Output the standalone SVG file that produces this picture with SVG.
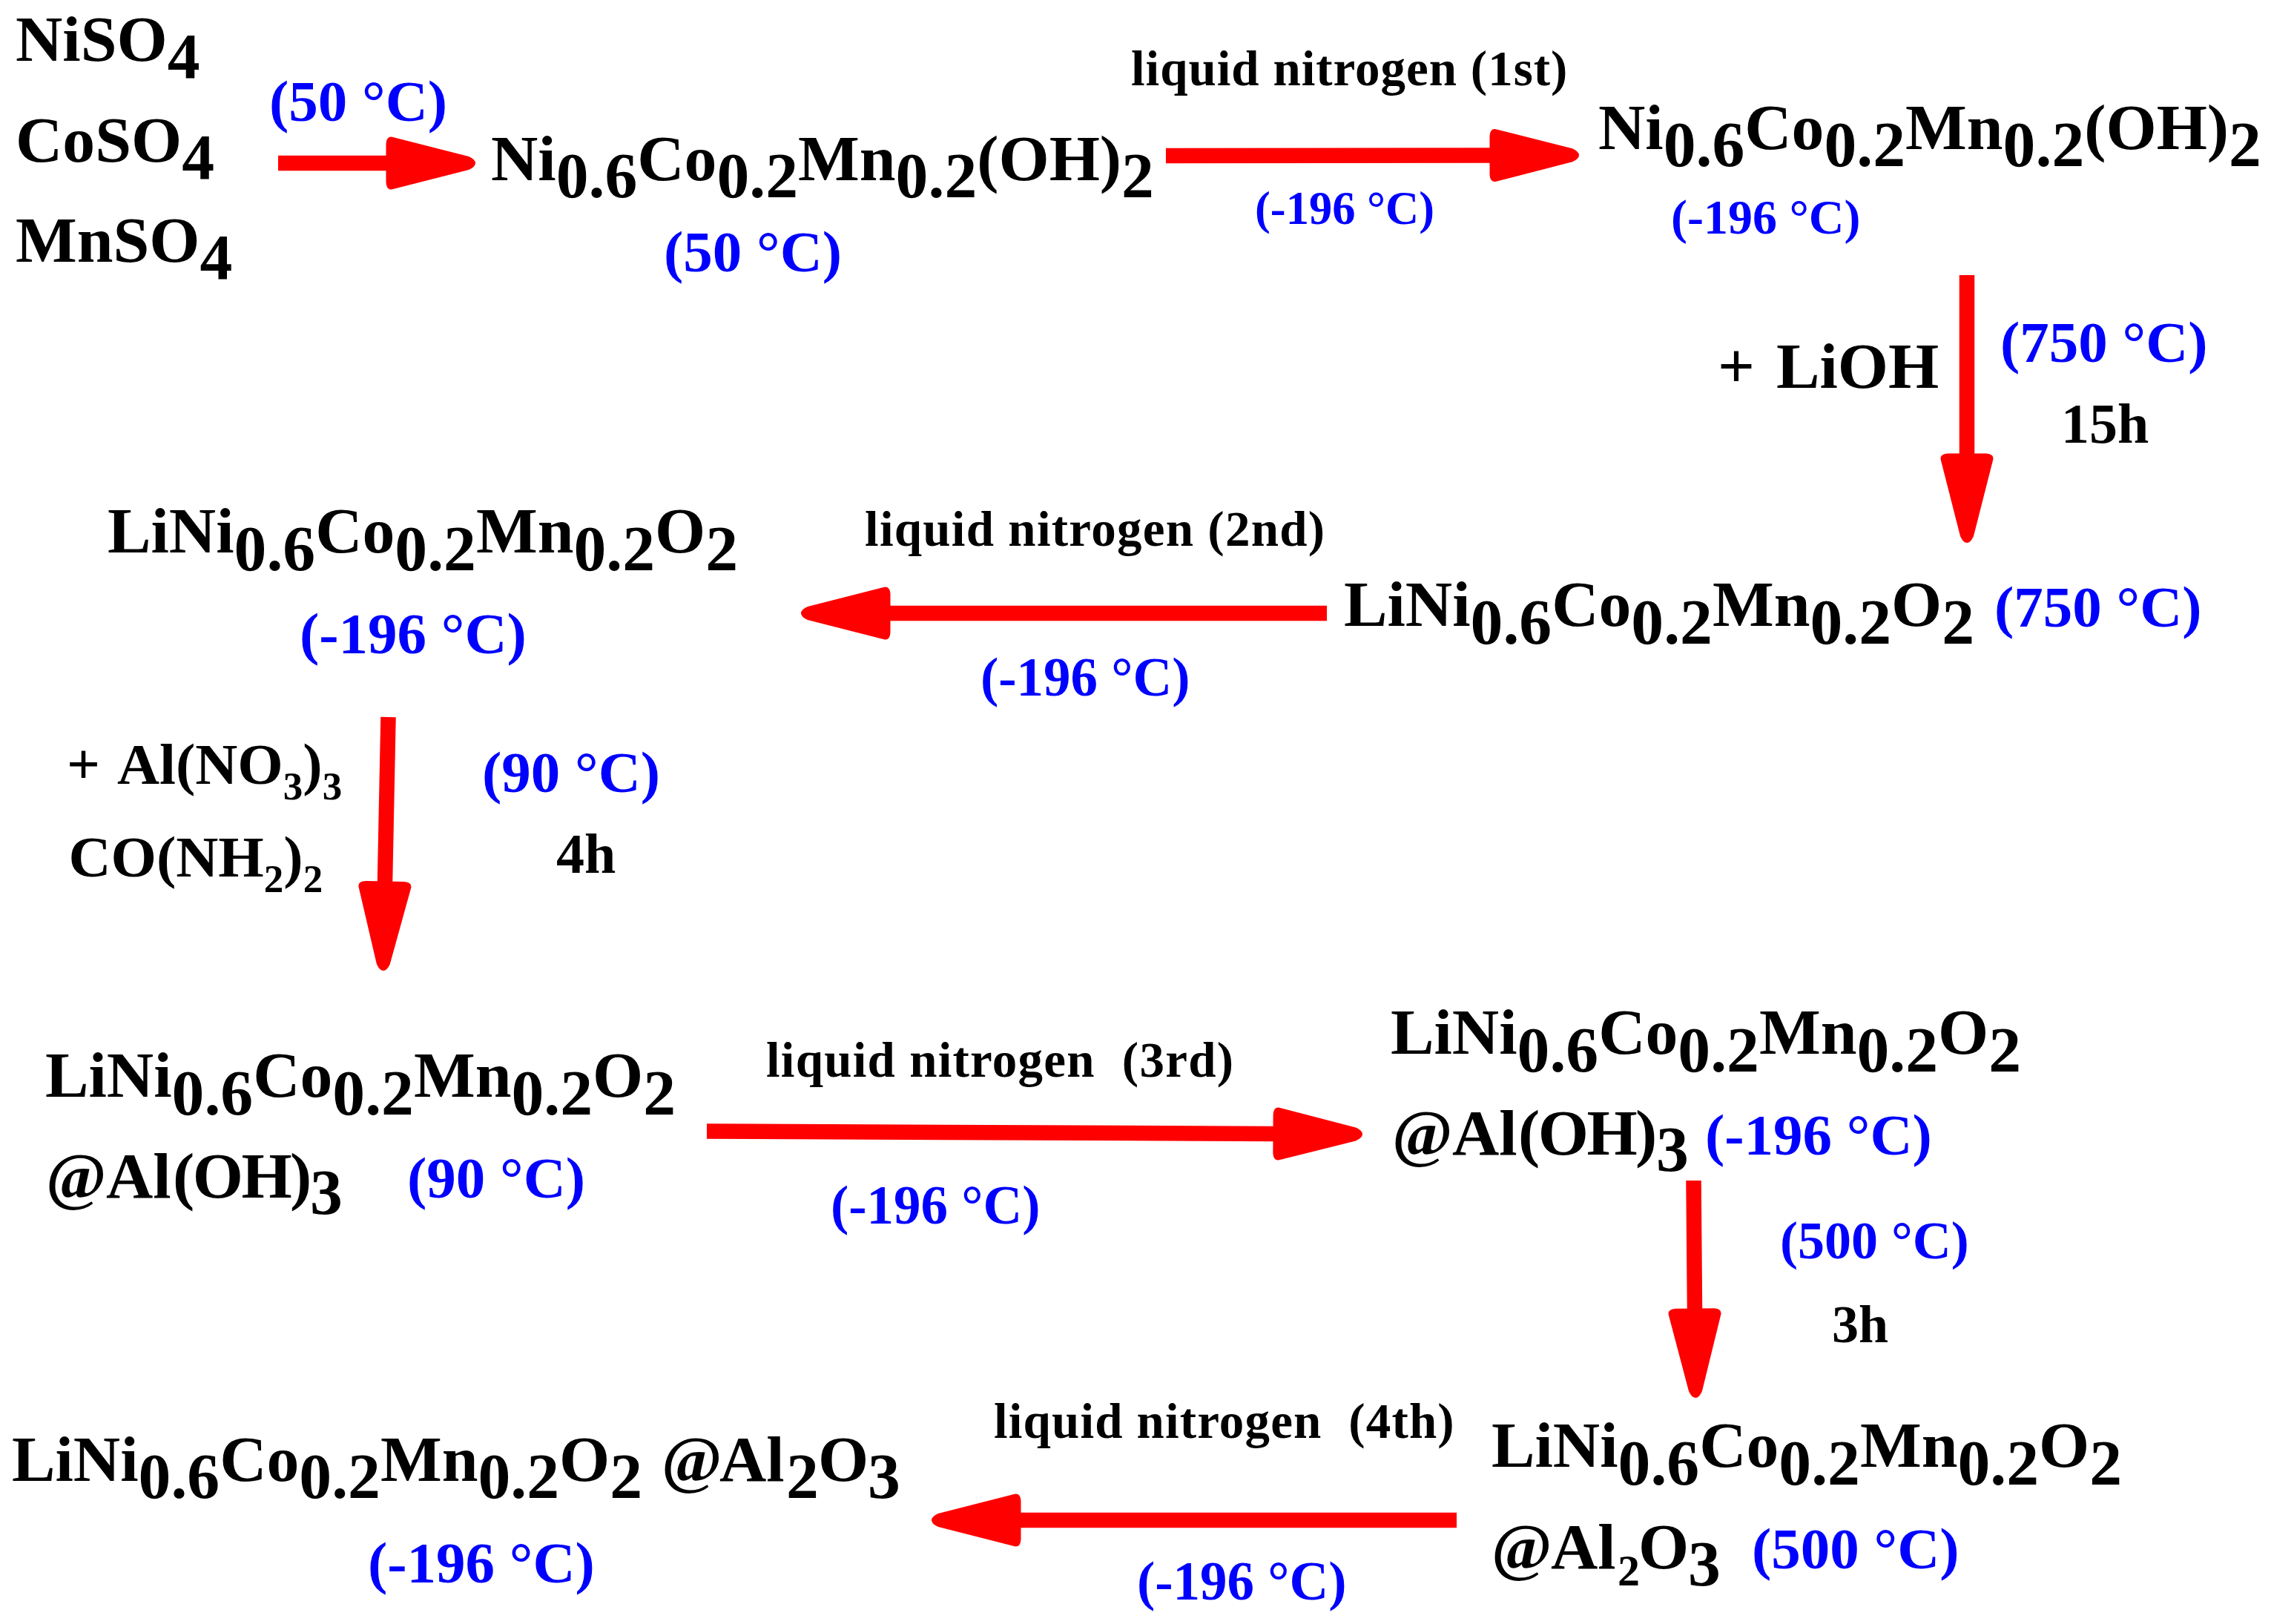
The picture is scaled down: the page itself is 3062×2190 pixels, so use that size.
<svg xmlns="http://www.w3.org/2000/svg" width="3062" height="2190" viewBox="0 0 3062 2190">
<style>
text{font-family:"Liberation Serif","Times New Roman",serif;font-weight:bold;fill:#000;white-space:pre}
.f{font-size:87.7px}
.b{font-size:79px;fill:#00f}
.c{font-size:73px;fill:#00f}
.s{font-size:62.5px;fill:#00f}
.l{font-size:67px;letter-spacing:1.2px}
.m{font-size:76px}
.r{font-size:79px}
.t{font-size:53px}
.k{font-size:60px}
.n{letter-spacing:-2.5px}
.a{stroke:#f00;stroke-width:20.5;fill:none}
</style>
<defs>
<marker id="h" viewBox="0 0 122 72" markerWidth="122" markerHeight="72" markerUnits="userSpaceOnUse" refX="2" refY="36" orient="auto">
<path d="M8 .5L112 27Q121 31 121 36Q121 41 112 45L8 71.5Q1 72 .5 62L.5 10Q1 0 8 .5Z" fill="#f00"/>
</marker>
</defs>
<rect width="3062" height="2190" fill="#fff"/>
<g id="connectors">
<line class="a" x1="375" y1="220" x2="522" y2="220" marker-end="url(#h)"/>
<line class="a" x1="1572" y1="210" x2="2010" y2="209.500" marker-end="url(#h)"/>
<line class="a" x1="2652" y1="371" x2="2652" y2="613" marker-end="url(#h)"/>
<line class="a" x1="1789" y1="827" x2="1199" y2="827" marker-end="url(#h)"/>
<line class="a" x1="523.500" y1="967" x2="519" y2="1190" marker-end="url(#h)"/>
<line class="a" x1="953" y1="1525.500" x2="1718" y2="1529" marker-end="url(#h)"/>
<line class="a" x1="2283.500" y1="1592" x2="2285" y2="1766" marker-end="url(#h)"/>
<line class="a" x1="1964" y1="2050" x2="1375" y2="2050" marker-end="url(#h)"/>
</g>
<g id="n-niso4"><text class="f" x="21" y="82">NiSO<tspan dy="23">4</tspan></text></g>
<g id="n-coso4"><text class="f" x="21" y="218">CoSO<tspan dy="23">4</tspan></text></g>
<g id="n-mnso4"><text class="f" x="21" y="353">MnSO<tspan dy="23">4</tspan></text></g>
<g id="l-50a"><text class="b" x="363" y="163">(50 °C)</text></g>
<g id="n-hydroxide1"><text class="f" x="662" y="243">Ni<tspan dy="23">0.6</tspan><tspan dy="-23">Co</tspan><tspan dy="23">0.2</tspan><tspan dy="-23">Mn</tspan><tspan dy="23">0.2</tspan><tspan dy="-23">(OH)</tspan><tspan dy="23">2</tspan></text></g>
<g id="l-50b"><text class="b" x="895" y="366">(50 °C)</text></g>
<g id="l-ln1"><text class="l" x="1525" y="115" style="letter-spacing:1px">liquid nitrogen (1st)</text></g>
<g id="l-196a"><text class="s" x="1692" y="302">(-196 °C)</text></g>
<g id="n-hydroxide2"><text class="f" x="2155" y="201">Ni<tspan dy="23">0.6</tspan><tspan dy="-23">Co</tspan><tspan dy="23">0.2</tspan><tspan dy="-23">Mn</tspan><tspan dy="23">0.2</tspan><tspan dy="-23">(OH)</tspan><tspan dy="23">2</tspan></text></g>
<g id="l-196b"><text class="s" x="2253" y="315" style="font-size:66px">(-196 °C)</text></g>
<g id="l-lioh"><text class="f" x="2316" y="523">+<tspan x="2395">LiOH</tspan></text></g>
<g id="l-750a"><text class="b" x="2697" y="488">(750 °C)</text></g>
<g id="l-15h"><text class="m" x="2779" y="597">15h</text></g>
<g id="n-ncm2"><text class="f" x="145" y="745">LiNi<tspan dy="24">0.6</tspan><tspan dy="-24">Co</tspan><tspan dy="24">0.2</tspan><tspan dy="-24">Mn</tspan><tspan dy="24">0.2</tspan><tspan dy="-24">O</tspan><tspan dy="24">2</tspan></text></g>
<g id="l-196c"><text class="b" x="404" y="881">(-196 °C)</text></g>
<g id="l-ln2"><text class="l" x="1166" y="736" style="letter-spacing:1.28px">liquid nitrogen (2nd)</text></g>
<g id="l-196d"><text class="c" x="1322" y="938">(-196 °C)</text></g>
<g id="n-ncm1"><text class="f" x="1812" y="844">LiNi<tspan dy="24">0.6</tspan><tspan dy="-24">Co</tspan><tspan dy="24">0.2</tspan><tspan dy="-24">Mn</tspan><tspan dy="24">0.2</tspan><tspan dy="-24">O</tspan><tspan dy="24">2</tspan></text></g>
<g id="l-750b"><text class="b" x="2689" y="845">(750 °C)</text></g>
<g id="l-al"><text class="r" x="90" y="1057">+<tspan x="158">Al(NO</tspan><tspan class="t" dy="21">3</tspan><tspan dy="-21">)</tspan><tspan class="t" dy="21">3</tspan></text></g>
<g id="l-urea"><text class="r" x="92.500" y="1182">CO(NH<tspan class="t" dy="21">2</tspan><tspan dy="-21">)</tspan><tspan class="t" dy="21">2</tspan></text></g>
<g id="l-90a"><text class="b" x="650" y="1068">(90 °C)</text></g>
<g id="l-4h"><text class="m" x="750" y="1177">4h</text></g>
<g id="n-ncmoh1"><text class="f" x="61" y="1479">LiNi<tspan dy="24">0.6</tspan><tspan dy="-24">Co</tspan><tspan dy="24">0.2</tspan><tspan dy="-24">Mn</tspan><tspan dy="24">0.2</tspan><tspan dy="-24">O</tspan><tspan dy="24">2</tspan></text><text class="f" x="62" y="1615">@<tspan x="143">Al</tspan><tspan class="n" x="233">(OH)</tspan><tspan x="418" dy="22">3</tspan></text></g>
<g id="l-90b"><text class="b" x="549" y="1615">(90 °C)</text></g>
<g id="l-ln3"><text class="l" x="1033" y="1452" style="letter-spacing:1.25px">liquid nitrogen  (3rd)</text></g>
<g id="l-196e"><text class="c" x="1120" y="1650">(-196 °C)</text></g>
<g id="n-ncmoh2"><text class="f" x="1875" y="1421">LiNi<tspan dy="24">0.6</tspan><tspan dy="-24">Co</tspan><tspan dy="24">0.2</tspan><tspan dy="-24">Mn</tspan><tspan dy="24">0.2</tspan><tspan dy="-24">O</tspan><tspan dy="24">2</tspan></text><text class="f" x="1877" y="1557">@<tspan x="1958">Al</tspan><tspan class="n" x="2047">(OH)</tspan><tspan x="2233" dy="22">3</tspan></text></g>
<g id="l-196f"><text class="b" x="2299" y="1557">(-196 °C)</text></g>
<g id="l-500a"><text class="b" x="2400" y="1697" style="font-size:72px">(500 °C)</text></g>
<g id="l-3h"><text class="m" x="2470" y="1810" style="font-size:72px">3h</text></g>
<g id="l-ln4"><text class="l" x="1340" y="1939" style="letter-spacing:1.16px">liquid nitrogen  (4th)</text></g>
<g id="l-196g"><text class="c" x="1533" y="2157">(-196 °C)</text></g>
<g id="n-ncmal2"><text class="f" x="16" y="1997">LiNi<tspan dy="23">0.6</tspan><tspan dy="-23">Co</tspan><tspan dy="23">0.2</tspan><tspan dy="-23">Mn</tspan><tspan dy="23">0.2</tspan><tspan dy="-23">O</tspan><tspan dy="23">2</tspan></text><text class="f" x="892" y="1997">@<tspan x="970">Al</tspan><tspan x="1060" dy="23">2</tspan><tspan x="1103" dy="-23">O</tspan><tspan x="1170" dy="23">3</tspan></text></g>
<g id="l-196h"><text class="b" x="496" y="2134">(-196 °C)</text></g>
<g id="n-ncmal1"><text class="f" x="2011" y="1978">LiNi<tspan dy="24">0.6</tspan><tspan dy="-24">Co</tspan><tspan dy="24">0.2</tspan><tspan dy="-24">Mn</tspan><tspan dy="24">0.2</tspan><tspan dy="-24">O</tspan><tspan dy="24">2</tspan></text><text class="f" x="2011" y="2115">@<tspan x="2091">Al</tspan><tspan class="k" x="2181" dy="23">2</tspan><tspan x="2209" dy="-23">O</tspan><tspan x="2276" dy="23">3</tspan></text></g>
<g id="l-500b"><text class="b" x="2362" y="2115">(500 °C)</text></g>
</svg>
